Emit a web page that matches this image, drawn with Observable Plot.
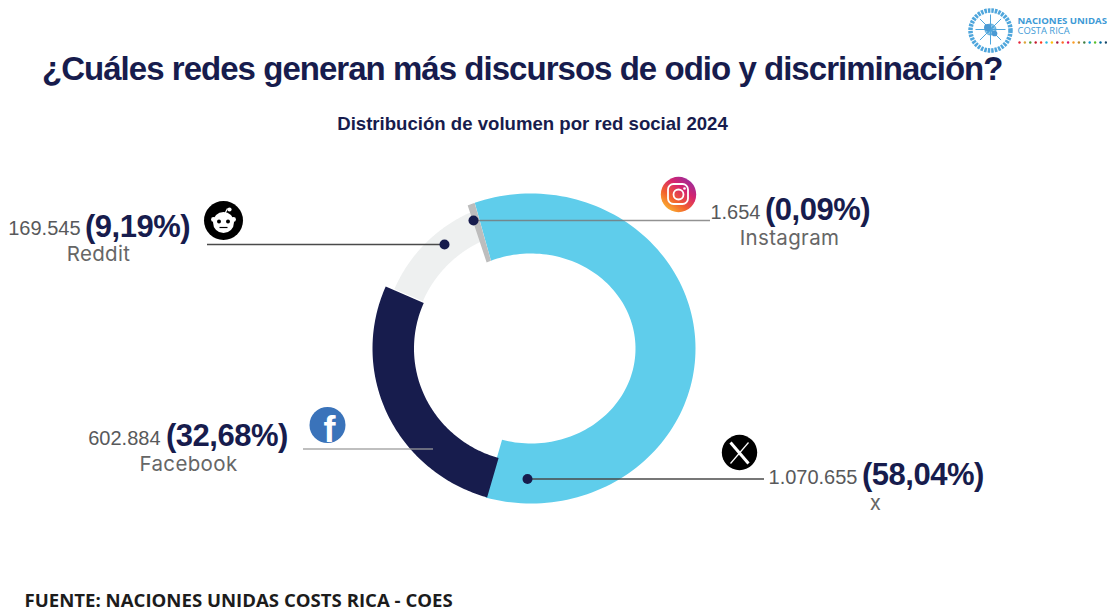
<!DOCTYPE html>
<html>
<head>
<meta charset="utf-8">
<script src="https://cdn.jsdelivr.net/npm/d3@7"></script>
<script src="https://cdn.jsdelivr.net/npm/@observablehq/plot@0.6"></script>
<style>html,body{margin:0;padding:0;background:#fff;overflow:hidden}svg{display:block}</style>
</head>
<body>
<div id="chart"></div>
<script>
// ---- Data ----
const networks = ["X", "Facebook", "Reddit", "Instagram"];
const nameLabels = ["x", "Facebook", "Reddit", "Instagram"];
const volumeLabels = ["1.070.655", "602.884", "169.545", "1.654"];
const percentLabels = ["(58,04%)", "(32,68%)", "(9,19%)", "(0,09%)"];
// Share of the ring as actually drawn in the reference (it differs from the printed percentages).
const drawnArcShare = [60.37, 27.08, 11.82, 0.72];
const sdgColors = ["#e5243b","#dda63a","#4c9f38","#c5192d","#ff3a21","#26bde2","#fcc30b","#a21942","#fd6925","#dd1367","#fd9d24","#bf8b2e","#3f7e44","#0a97d9","#56c02b","#00689d","#19486a"];

const titleText = "¿Cuáles redes generan más discursos de odio y discriminación?";
const subtitleText = "Distribución de volumen por red social 2024";
const sourceText = "FUENTE: NACIONES UNIDAS COSTS RICA - COES";

// ---- Layout (pixels of the 1107x608 frame) ----
const navy = "#171c4d", grey = "#58595b";
const ringColors = ["#5fcdeb", "#171c4d", "#eef0f0", "#bdbdbd"];
const center = {x: 530.5, y: 348};
const outer = [{rx: 164.5, ry: 155}, {rx: 158.5, ry: 155}, {rx: 149, ry: 149}, {rx: 164.5, ry: 155}];
const inner = [{rx: 104.5, ry: 95}, {rx: 117, ry: 114}, {rx: 118, ry: 118}, {rx: 104.5, ry: 95}];
const edgeLean = [[1.25, 0], [0, 0], [0, 0], [1.25, 1.25]];
const startAngle = -21.25;
const labelPos = [
  {num: 857, pct: 861.5, nameX: 875, y: 475, nameY: 503},
  {num: 160, pct: 165.5, nameX: 188, y: 436, nameY: 464},
  {num: 80,  pct: 84.5,  nameX: 98,  y: 226.5, nameY: 254},
  {num: 760, pct: 764.5, nameX: 789, y: 210, nameY: 238}
];
const leaders = [
  {x1: 527, x2: 764, y: 478.5, stroke: "#4a4a4a", op: 1},
  {x1: 303, x2: 433, y: 448.5, stroke: "#9a9a9a", op: .85},
  {x1: 207, x2: 444, y: 244, stroke: "#4a4a4a", op: 1},
  {x1: 473, x2: 710, y: 220, stroke: "#777", op: .8}
];
const leaderDots = [{x: 527, y: 478.5}, {x: 444, y: 244}, {x: 473, y: 220}];

// ---- Ring built from the shares ----
const rad = d => d * Math.PI / 180;
const ringPoints = [];
let cursor = startAngle;
networks.forEach((network, i) => {
  const a0 = cursor, a1 = cursor + drawnArcShare[i] * 3.6;
  cursor = a1;
  const ts = d3.range(0, 1.0001, 1 / 120);
  const lean = t => edgeLean[i][0] + (edgeLean[i][1] - edgeLean[i][0]) * t;
  const out = ts.map(t => {
    const a = a0 + (a1 - a0) * t + lean(t);
    return {network, x: center.x + outer[i].rx * Math.sin(rad(a)), y: center.y - outer[i].ry * Math.cos(rad(a))};
  });
  const inn = ts.slice().reverse().map(t => {
    const a = a0 + (a1 - a0) * t - lean(t);
    return {network, x: center.x + inner[i].rx * Math.sin(rad(a)), y: center.y - inner[i].ry * Math.cos(rad(a))};
  });
  ringPoints.push(...out, ...inn);
});

const labels = networks.map((n, i) => ({
  volume: volumeLabels[i], percent: percentLabels[i], label: nameLabels[i],
  ...labelPos[i]
}));

const sans = "Liberation Sans, Arial, sans-serif";
const soft = "Inter, Noto Sans, sans-serif";

const logoDots = sdgColors.map((c, i) => ({c, x: 1019 + i * 5.4, y: 42}));
const meridians = [0, 1, 2, 3, 4, 5, 6, 7].map(k => k * Math.PI / 4);

const plot = Plot.plot({
  width: 1107, height: 608,
  margin: 0,
  x: {domain: [0, 1107], range: [0, 1107], axis: null},
  y: {domain: [0, 608], range: [0, 608], axis: null},
  color: {domain: networks, range: ringColors},
  style: {background: "#fff"},
  marks: [
    // Headings
    Plot.text([titleText], {x: 41.5, y: 69, text: d => d, textAnchor: "start", fontFamily: sans, fontWeight: 700, fontSize: 33, fill: navy}),
    Plot.text([subtitleText], {x: 532, y: 124, text: d => d, textAnchor: "middle", fontFamily: sans, fontWeight: 700, fontSize: 18.6, fill: navy}),
    Plot.text([sourceText], {x: 24, y: 601, text: d => d, textAnchor: "start", fontFamily: "Open Sans, sans-serif", fontWeight: 700, fontSize: 18.6, fill: "#1c1c1c"}),

    // Ring
    Plot.line(ringPoints, {x: "x", y: "y", z: "network", fill: "network", stroke: null, curve: "linear"}),

    // Leaders
    ...leaders.map(l => Plot.ruleY([l.y], {x1: l.x1, x2: l.x2, stroke: l.stroke, strokeOpacity: l.op, strokeWidth: 1.4})),
    Plot.dot(leaderDots, {x: "x", y: "y", r: 5, fill: navy}),

    // Labels
    Plot.text(labels, {x: "num", y: "y", text: "volume", textAnchor: "end", fontFamily: sans, fontSize: 20, fill: grey, dy: 2}),
    Plot.text(labels, {x: "pct", y: "y", text: "percent", textAnchor: "start", fontFamily: sans, fontWeight: 700, fontSize: 31, fill: navy}),
    Plot.text(labels, {x: "nameX", y: "nameY", text: "label", textAnchor: "middle", fontFamily: soft, fontSize: 20.5, fill: "#666"}),

    // X icon
    Plot.dot([0], {x: () => 739, y: () => 452, r: 17.7, fill: "#000"}),
    Plot.link([[730, 442, 748, 463]], {x1: d => d[0], y1: d => d[1], x2: d => d[2], y2: d => d[3], stroke: "#fff", strokeWidth: 3}),
    Plot.link([[748, 442, 730, 463]], {x1: d => d[0], y1: d => d[1], x2: d => d[2], y2: d => d[3], stroke: "#fff", strokeWidth: 1.2}),

    // Facebook icon
    Plot.dot([0], {x: () => 327, y: () => 424.5, r: 18, fill: "#3a73ba"}),
    Plot.text(["f"], {x: 329, y: 430, text: d => d, fontFamily: sans, fontWeight: 700, fontSize: 36, fill: "#fff"}),

    // Reddit icon
    Plot.dot([0], {x: () => 223, y: () => 220, r: 19.5, fill: "#000"}),
    Plot.link([[223, 216, 227, 208]], {x1: d => d[0], y1: d => d[1], x2: d => d[2], y2: d => d[3], stroke: "#fff", strokeWidth: 1.2}),
    Plot.dot([[229, 209, 2.2], [213, 219, 3], [233, 219, 3]], {x: d => d[0], y: d => d[1], r: d => d[2], fill: "#fff"}),
    Plot.dot([[223, 222]], {x: d => d[0], y: d => d[1], r: 10.5, fill: "#fff"}),
    Plot.dot([[218.5, 221], [227.5, 221]], {x: d => d[0], y: d => d[1], r: 2, fill: "#000"}),
    Plot.link([[219, 227, 227, 227]], {x1: d => d[0], y1: d => d[1], x2: d => d[2], y2: d => d[3], stroke: "#000", strokeWidth: 1.2}),

    // Instagram icon
    Plot.dot([0], {x: () => 678, y: () => 194, r: 17.7, fill: "url(#ig)"}),
    Plot.rect([0], {x1: () => 668, x2: () => 688, y1: () => 184, y2: () => 204, rx: 5.5, fill: "none", stroke: "#fff", strokeWidth: 1.8}),
    Plot.dot([0], {x: () => 678, y: () => 194, r: 5, fill: "none", stroke: "#fff", strokeWidth: 1.8}),
    Plot.dot([0], {x: () => 684, y: () => 188, r: 1.3, fill: "#fff"}),

    // UN emblem
    Plot.dot([0], {x: () => 990, y: () => 30, r: 20, fill: "none", stroke: "#4fa6dc", strokeWidth: 4.5, strokeDasharray: "2.5 1"}),
    Plot.dot([15, 11, 7, 3], {x: () => 990, y: () => 29, r: d => d, fill: "none", stroke: "#4fa6dc", strokeWidth: 1}),
    Plot.link(meridians, {x1: () => 990, y1: () => 29, x2: a => 990 + 15 * Math.cos(a), y2: a => 29 + 15 * Math.sin(a), stroke: "#4fa6dc", strokeWidth: 1}),
    Plot.dot([[987, 27, 6], [994, 33, 4]], {x: d => d[0], y: d => d[1], r: d => d[2], fill: "#4a9ad4"}),
    Plot.text(["NACIONES UNIDAS"], {x: 1017, y: 20.5, text: d => d, textAnchor: "start", fontFamily: "Open Sans, sans-serif", fontWeight: 700, fontSize: 9.6, fill: "#3d9ad6"}),
    Plot.text(["COSTA RICA"], {x: 1017, y: 30.5, text: d => d, textAnchor: "start", fontFamily: "Open Sans, sans-serif", fontSize: 9.4, fill: "#3d9ad6"}),
    Plot.dot(logoDots, {x: "x", y: "y", r: 1.2, fill: "c"})
  ]
});

const svg = d3.select(plot);
const grad = svg.append("defs").append("linearGradient").attr("id", "ig")
  .attr("x1", "0.1").attr("y1", "1").attr("x2", "0.9").attr("y2", "0");
[["0%", "#fdc830"], ["35%", "#f2612e"], ["65%", "#d6246e"], ["100%", "#8a2ea8"]]
  .forEach(([o, c]) => grad.append("stop").attr("offset", o).attr("stop-color", c));

// Tighter tracking of the heavy Helvetica-like headings, wider for the soft names
svg.selectAll("text").each(function () {
  const t = this.textContent;
  if (t === titleText) this.style.letterSpacing = "-0.97px";
  if (percentLabels.includes(t)) this.style.letterSpacing = "-0.5px";
  if (nameLabels.includes(t)) this.style.letterSpacing = "0.35px";
});

document.getElementById("chart").append(plot);
</script>
</body>
</html>
